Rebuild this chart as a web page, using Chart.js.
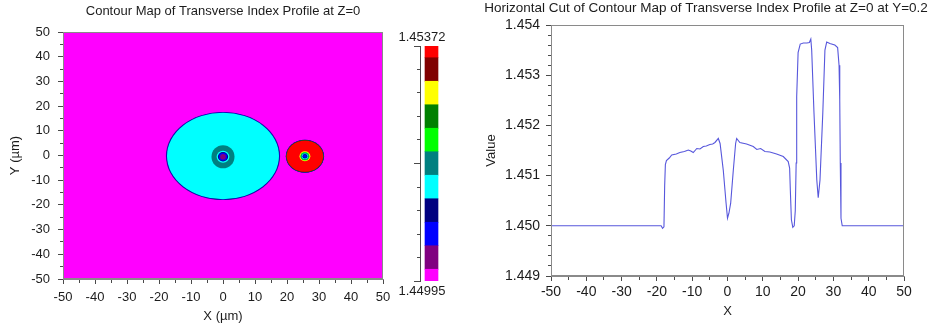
<!DOCTYPE html>
<html>
<head>
<meta charset="utf-8">
<script src="https://cdn.jsdelivr.net/npm/chart.js@4/dist/chart.umd.min.js"></script>
<style>
  html, body { margin: 0; padding: 0; background: #fff; width: 930px; height: 329px; overflow: hidden; }
  canvas { position: absolute; top: 0; display: block; }
  #map { left: 0; }
  #bar { left: 380px; }
  #cut { left: 482px; }
</style>
</head>
<body>
<canvas id="map" width="446" height="329"></canvas>
<canvas id="bar" width="84" height="329"></canvas>
<canvas id="cut" width="448" height="329"></canvas>
<script>
// Index levels of the colour scale and their colours (lowest first)
const levelValues = [1.44995, 1.450327, 1.450704, 1.451081, 1.451458, 1.451835,
                     1.452212, 1.452589, 1.452966, 1.453343, 1.45372];
const levelColors = ['#ff00ff', '#800080', '#0000ff', '#000080', '#00ffff', '#008080',
                     '#00ff00', '#008000', '#ffff00', '#800000', '#ff0000'];

// Background level of the transverse field
const fieldLevel = 0;

// Contour regions: centre (µm), semi-axes (µm), level index; outermost first
const ringCx = [0, 0, 0, 0,
                0, 0, 0, 0, 0,
                25.6, 25.6, 25.6, 25.6, 25.6, 25.6, 25.6,
                25.6, 25.6, 25.6, 25.6, 25.6, 25.6];
const ringCy = [-0.2, -0.2, -0.2, -0.2,
                -0.5, -0.5, -0.5, -0.5, -0.5,
                -0.3, -0.3, -0.3, -0.3, -0.3, -0.3, -0.3,
                -0.3, -0.3, -0.3, -0.3, -0.3, -0.3];
const ringRx = [17.85, 17.72, 17.6, 17.5,
                3.6, 2.0, 1.6, 1.3, 0.9,
                6.0, 5.95, 5.9, 5.85, 5.8, 5.75, 5.7,
                1.7, 1.45, 1.2, 0.95, 0.75, 0.55];
const ringRy = [17.85, 17.72, 17.6, 17.5,
                4.7, 2.4, 1.9, 1.6, 1.15,
                6.7, 6.63, 6.56, 6.5, 6.44, 6.37, 6.3,
                2.0, 1.75, 1.45, 1.15, 0.9, 0.65];
const ringLevel = [1, 2, 3, 4,
                   5, 4, 3, 2, 1,
                   1, 2, 3, 5, 7, 9, 10,
                   8, 6, 5, 4, 3, 2];

// Horizontal cut at Y=0.2
const cutX = [-50, -18.8, -18.4, -18.0, -17.8, -17.6, -17.3, -16.5, -15.8, -14.5,
              -13.5, -12.2, -11.1, -10.4, -9.7, -8.7, -7.8, -6.85, -6.0, -5.0,
              -4.2, -3.55, -2.6, -2.1, -1.2, -0.4, 0.0, 0.4, 0.9, 1.65,
              2.3, 2.6, 3.5, 5.4, 7.3, 8.3, 9.4, 10.6, 12.0, 13.9,
              15.8, 17.2, 17.6, 17.8, 18.1, 18.5, 18.9, 19.2, 19.45, 19.6,
              20.0, 20.6, 21.5, 22.5, 23.2, 23.6, 23.85, 24.5, 25.3, 25.7,
              26.2, 27.0, 27.6, 28.1, 29.0, 30.4, 31.2, 31.6, 31.8, 31.95,
              32.15, 32.5, 50];
const cutValue = [1.45000, 1.45000, 1.44995, 1.44998, 1.45080, 1.45122, 1.45130, 1.45135, 1.45141, 1.45143,
                  1.45146, 1.45148, 1.45151, 1.45149, 1.45146, 1.45154, 1.45153, 1.45158, 1.45159, 1.45162,
                  1.45163, 1.45166, 1.45174, 1.45164, 1.45111, 1.45045, 1.45015, 1.45025, 1.45045, 1.45111,
                  1.45164, 1.45174, 1.45166, 1.45163, 1.45158, 1.45152, 1.45154, 1.45148, 1.45147, 1.45143,
                  1.45138, 1.45128, 1.45115, 1.45071, 1.45012, 1.44997, 1.45000, 1.45030, 1.45125, 1.45257,
                  1.45345, 1.45362, 1.45364, 1.45364, 1.45365, 1.45372, 1.45350, 1.45225, 1.45091, 1.45056,
                  1.45091, 1.45225, 1.45350, 1.45366, 1.45363, 1.45360, 1.45355, 1.45320, 1.45250, 1.45125,
                  1.45015, 1.45000, 1.45000];

// Labelled ticks
const mapTicks = [-50, -40, -30, -20, -10, 0, 10, 20, 30, 40, 50];
const cutXTicks = [-50, -40, -30, -20, -10, 0, 10, 20, 30, 40, 50];
const cutValueTicks = [1.449, 1.450, 1.451, 1.452, 1.453, 1.454];

const FONT = "'Liberation Sans', Arial, Helvetica, sans-serif";
const TEXT = '#1c1c1c';
const AXIS = '#8a8a8a';
const TICK = '#4a4a4a';
Chart.defaults.font.family = FONT;
Chart.defaults.color = TEXT;

const isMajor = (v, list) => list.some(t => Math.abs(t - v) < 1e-9);
// Minor ticks are drawn shorter: only the part next to the axis line is stroked
const dashFor = (list, full, short, outerFirst) => (c) => {
  if (!c.tick || isMajor(c.tick.value, list)) return [];
  return outerFirst ? [0, full - short, short, 100] : [short, 100];
};

// Empty right-hand axis that only reserves space, so titles stay centred on the canvas
const spacerAxis = (w) => ({
  type: 'linear', position: 'right', display: true,
  afterFit: s => { s.width = w; },
  ticks: { display: false },
  grid: { display: false, drawTicks: false },
  border: { display: false }
});

// Filled contour regions, placed through the chart's own scales
const contourPlugin = {
  id: 'contour',
  beforeDatasetsDraw(chart) {
    const { ctx, chartArea: a, scales: { x, y } } = chart;
    ctx.save();
    ctx.beginPath();
    ctx.rect(a.left, a.top, a.right - a.left, a.bottom - a.top);
    ctx.clip();
    ctx.fillStyle = levelColors[fieldLevel];
    ctx.fillRect(a.left, a.top, a.right - a.left, a.bottom - a.top);
    for (let i = 0; i < ringCx.length; i++) {
      const px = x.getPixelForValue(ringCx[i]);
      const py = y.getPixelForValue(ringCy[i]);
      const rx = Math.abs(x.getPixelForValue(ringCx[i] + ringRx[i]) - px);
      const ry = Math.abs(y.getPixelForValue(ringCy[i] + ringRy[i]) - py);
      ctx.fillStyle = levelColors[ringLevel[i]];
      ctx.beginPath();
      ctx.ellipse(px, py, rx, ry, 0, 0, Math.PI * 2);
      ctx.fill();
    }
    ctx.restore();
  }
};

// Grey box round the plotting area
const framePlugin = {
  id: 'frame',
  afterDraw(chart) {
    const { ctx, chartArea: a } = chart;
    ctx.save();
    ctx.strokeStyle = AXIS;
    ctx.lineWidth = 1;
    ctx.strokeRect(Math.round(a.left) + 0.5, Math.round(a.top) + 0.5,
                   Math.round(a.right - a.left) - 1, Math.round(a.bottom - a.top) - 1);
    ctx.restore();
  }
};

// ---- Contour map ----
new Chart(document.getElementById('map'), {
  type: 'scatter',
  data: { datasets: [] },
  plugins: [contourPlugin, framePlugin],
  options: {
    responsive: false,
    animation: false,
    layout: { padding: 0 },
    plugins: {
      legend: { display: false },
      tooltip: { enabled: false },
      title: {
        display: true,
        text: 'Contour Map of Transverse Index Profile at Z=0',
        color: TEXT,
        font: { family: FONT, size: 13, weight: 'normal', lineHeight: 1.2 },
        padding: { top: 4, bottom: 12.4 }
      }
    },
    scales: {
      x: {
        type: 'linear', min: -50, max: 50,
        afterFit: s => { s.height = 50; },
        ticks: {
          stepSize: 5, autoSkip: false, maxRotation: 0, padding: 5.2, color: TEXT,
          font: { size: 13, lineHeight: 1.2 },
          callback: v => isMajor(v, mapTicks) ? String(Math.round(v)) : ''
        },
        grid: { drawOnChartArea: false, drawTicks: true, tickLength: 5, tickColor: TICK,
                tickBorderDash: dashFor(mapTicks, 5, 3, false) },
        border: { display: true, color: AXIS },
        title: { display: true, text: 'X (µm)', color: TEXT,
                 font: { size: 13, lineHeight: 1.2 }, padding: { top: 0, bottom: 5.2 } }
      },
      y: {
        type: 'linear', min: -50, max: 50, position: 'left',
        afterFit: s => { s.width = 63; },
        ticks: {
          stepSize: 5, autoSkip: false, padding: 8, color: TEXT,
          font: { size: 13, lineHeight: 1.2 },
          callback: v => isMajor(v, mapTicks) ? String(Math.round(v)) : ''
        },
        grid: { drawOnChartArea: false, drawTicks: true, tickLength: 5, tickColor: TICK,
                tickBorderDash: dashFor(mapTicks, 5, 3, true) },
        border: { display: true, color: AXIS },
        title: { display: true, text: 'Y (µm)', color: TEXT,
                 font: { size: 13, lineHeight: 1.2 }, padding: { top: 7.2, bottom: 0 } }
      },
      yPad: spacerAxis(63)
    }
  }
});

// ---- Colour scale ----
const halfStep = (levelValues[1] - levelValues[0]) / 2;
const lowest = levelValues[0];
const highest = levelValues[levelValues.length - 1];
const scaleMajor = [levelValues[0], levelValues[5], levelValues[10]];
new Chart(document.getElementById('bar'), {
  type: 'bar',
  data: {
    labels: [''],
    datasets: levelValues.map((v, i) => ({
      data: [[Math.max(lowest, v - halfStep), Math.min(highest, v + halfStep)]],
      backgroundColor: levelColors[i],
      borderWidth: 0,
      grouped: false,
      barThickness: 13
    }))
  },
  options: {
    responsive: false,
    animation: false,
    layout: { padding: 0 },
    plugins: {
      legend: { display: false },
      tooltip: { enabled: false },
      title: {
        display: true, text: highest.toFixed(5), color: TEXT,
        font: { family: FONT, size: 13, weight: 'normal', lineHeight: 1.2 },
        padding: { top: 29.2, bottom: 1.2 }
      },
      subtitle: {
        display: true, position: 'bottom', text: lowest.toFixed(5), color: TEXT,
        font: { family: FONT, size: 13, weight: 'normal', lineHeight: 1.2 },
        padding: { top: 2.2, bottom: 30.2 }
      }
    },
    scales: {
      x: { display: false },
      y: {
        type: 'linear', min: lowest, max: highest, position: 'left',
        afterBuildTicks: s => { s.ticks = levelValues.map(v => ({ value: v })); },
        afterFit: s => { s.width = 40; },
        ticks: { display: false },
        grid: { drawOnChartArea: false, drawTicks: true, tickLength: 6, tickColor: TICK,
                tickBorderDash: dashFor(scaleMajor, 6, 3, true) },
        border: { display: true, color: TICK }
      },
      yPad: spacerAxis(21)
    }
  }
});

// ---- Horizontal cut ----
new Chart(document.getElementById('cut'), {
  type: 'scatter',
  data: {
    datasets: [{
      data: cutX.map((x, i) => ({ x, y: cutValue[i] })),
      showLine: true,
      borderColor: '#5757dc',
      borderWidth: 1.1,
      pointRadius: 0,
      tension: 0
    }]
  },
  plugins: [framePlugin],
  options: {
    responsive: false,
    animation: false,
    layout: { padding: 0 },
    plugins: {
      legend: { display: false },
      tooltip: { enabled: false },
      title: {
        display: true,
        text: 'Horizontal Cut of Contour Map of Transverse Index Profile at Z=0 at Y=0.2',
        color: TEXT,
        font: { family: FONT, size: 13.5, weight: 'normal', lineHeight: 1.2 },
        padding: { top: 0, bottom: 8.8 }
      }
    },
    scales: {
      x: {
        type: 'linear', min: -50, max: 50,
        afterFit: s => { s.height = 53; },
        ticks: {
          stepSize: 5, autoSkip: false, maxRotation: 0, padding: 2.3, color: TEXT,
          font: { size: 14, lineHeight: 1.2 },
          callback: v => isMajor(v, cutXTicks) ? String(Math.round(v)) : ''
        },
        grid: { drawOnChartArea: false, drawTicks: true, tickLength: 5, tickColor: TICK,
                tickBorderDash: dashFor(cutXTicks, 5, 3, false) },
        border: { display: true, color: AXIS },
        title: { display: true, text: 'X', color: TEXT,
                 font: { size: 13, lineHeight: 1.2 }, padding: { top: 0, bottom: 9.5 } }
      },
      y: {
        type: 'linear', min: 1.449, max: 1.454, position: 'left',
        afterFit: s => { s.width = 69; },
        ticks: {
          stepSize: 0.0002, autoSkip: false, padding: 6, color: TEXT,
          font: { size: 14, lineHeight: 1.2 },
          callback: v => isMajor(v, cutValueTicks) ? Number(v).toFixed(3) : ''
        },
        grid: { drawOnChartArea: false, drawTicks: true, tickLength: 5, tickColor: TICK,
                tickBorderDash: dashFor(cutValueTicks, 5, 3, true) },
        border: { display: true, color: AXIS },
        title: { display: true, text: 'Value', color: TEXT,
                 font: { size: 13, lineHeight: 1.2 }, padding: { top: 1.9, bottom: 0 } }
      },
      yPad: spacerAxis(26)
    }
  }
});
</script>
</body>
</html>
